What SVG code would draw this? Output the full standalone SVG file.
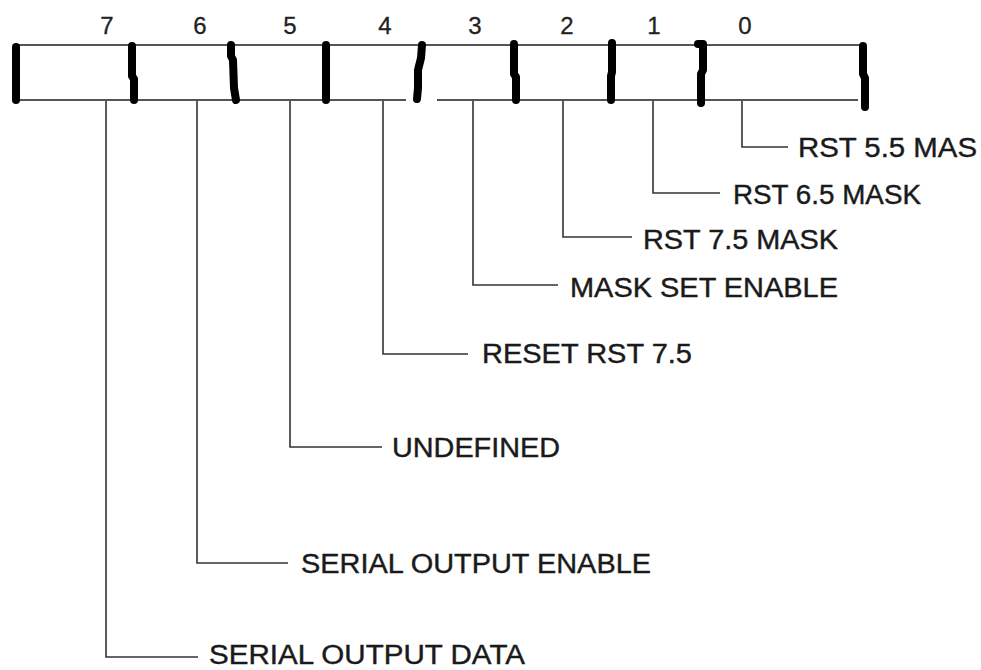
<svg xmlns="http://www.w3.org/2000/svg" width="981" height="670" viewBox="0 0 981 670">
<style>
.reg{stroke:#555;stroke-width:2;fill:none}
.bar{stroke:#000;stroke-width:8;fill:none;stroke-linecap:round;stroke-linejoin:round}
.lead{stroke:#333;stroke-width:1.6;fill:none}
.num{font-family:"Liberation Sans",Arial,sans-serif;font-size:24px;fill:#222;stroke:#222;stroke-width:0.3;text-anchor:middle}
.lbl{font-family:"Liberation Sans",Arial,sans-serif;font-size:27px;fill:#1a1a1a;stroke:#1a1a1a;stroke-width:0.4}
</style>
<rect width="981" height="670" fill="#fff"/>
<g id="register">
<line class="reg" x1="15" y1="45" x2="864" y2="45"/>
<line class="reg" x1="15" y1="100" x2="406" y2="100"/>
<line class="reg" x1="437" y1="100" x2="858" y2="100"/>
<path class="bar" d="M16,47 L16,100" stroke-linecap="butt"/>
<path class="bar" d="M132,46 L132,76 L134,79 L134,100"/>
<path class="bar" d="M231,45 L231,56 L233,60 L234,88 L236,100"/>
<path class="bar" d="M326,45 L326,100"/>
<path class="bar" d="M422,45 L421,58 L418,70 L418,88 L417,99"/>
<path class="bar" d="M514,44 L514,74 L516,77 L516,100"/>
<path class="bar" d="M612,43 L612,72 L611,76 L611,100"/>
<path class="bar" d="M698,44 L703,44 L703,70 L701,74 L701,103"/>
<path class="bar" d="M863,46 L863,74 L865,78 L865,107"/>
</g>
<g id="bit-numbers">
<text class="num" x="107" y="34">7</text>
<text class="num" x="200" y="34">6</text>
<text class="num" x="290" y="34">5</text>
<text class="num" x="385" y="34">4</text>
<text class="num" x="475" y="34">3</text>
<text class="num" x="567" y="34">2</text>
<text class="num" x="654" y="34">1</text>
<text class="num" x="745" y="34">0</text>
</g>
<g id="connectors">
<path class="lead" d="M742,101 V147 H788"/>
<path class="lead" d="M653,101 V193 H720"/>
<path class="lead" d="M563,101 V237 H632"/>
<path class="lead" d="M473,101 V285 H558"/>
<path class="lead" d="M383,101 V354 H468"/>
<path class="lead" d="M290,101 V447 H382"/>
<path class="lead" d="M197,101 V563 H288"/>
<path class="lead" d="M106,101 V657 H198"/>
</g>
<g id="bit0"><text class="lbl" x="798" y="157" textLength="179" lengthAdjust="spacingAndGlyphs">RST 5.5 MAS</text></g>
<g id="bit1"><text class="lbl" x="733" y="204" textLength="188" lengthAdjust="spacingAndGlyphs">RST 6.5 MASK</text></g>
<g id="bit2"><text class="lbl" x="643" y="249" textLength="195" lengthAdjust="spacingAndGlyphs">RST 7.5 MASK</text></g>
<g id="bit3"><text class="lbl" x="570" y="297" textLength="268" lengthAdjust="spacingAndGlyphs">MASK SET ENABLE</text></g>
<g id="bit4"><text class="lbl" x="482" y="363" textLength="210" lengthAdjust="spacingAndGlyphs">RESET RST 7.5</text></g>
<g id="bit5"><text class="lbl" x="392" y="457" textLength="168" lengthAdjust="spacingAndGlyphs">UNDEFINED</text></g>
<g id="bit6"><text class="lbl" x="301" y="573" textLength="350" lengthAdjust="spacingAndGlyphs">SERIAL OUTPUT ENABLE</text></g>
<g id="bit7"><text class="lbl" x="209" y="664" textLength="316" lengthAdjust="spacingAndGlyphs">SERIAL OUTPUT DATA</text></g>
</svg>
